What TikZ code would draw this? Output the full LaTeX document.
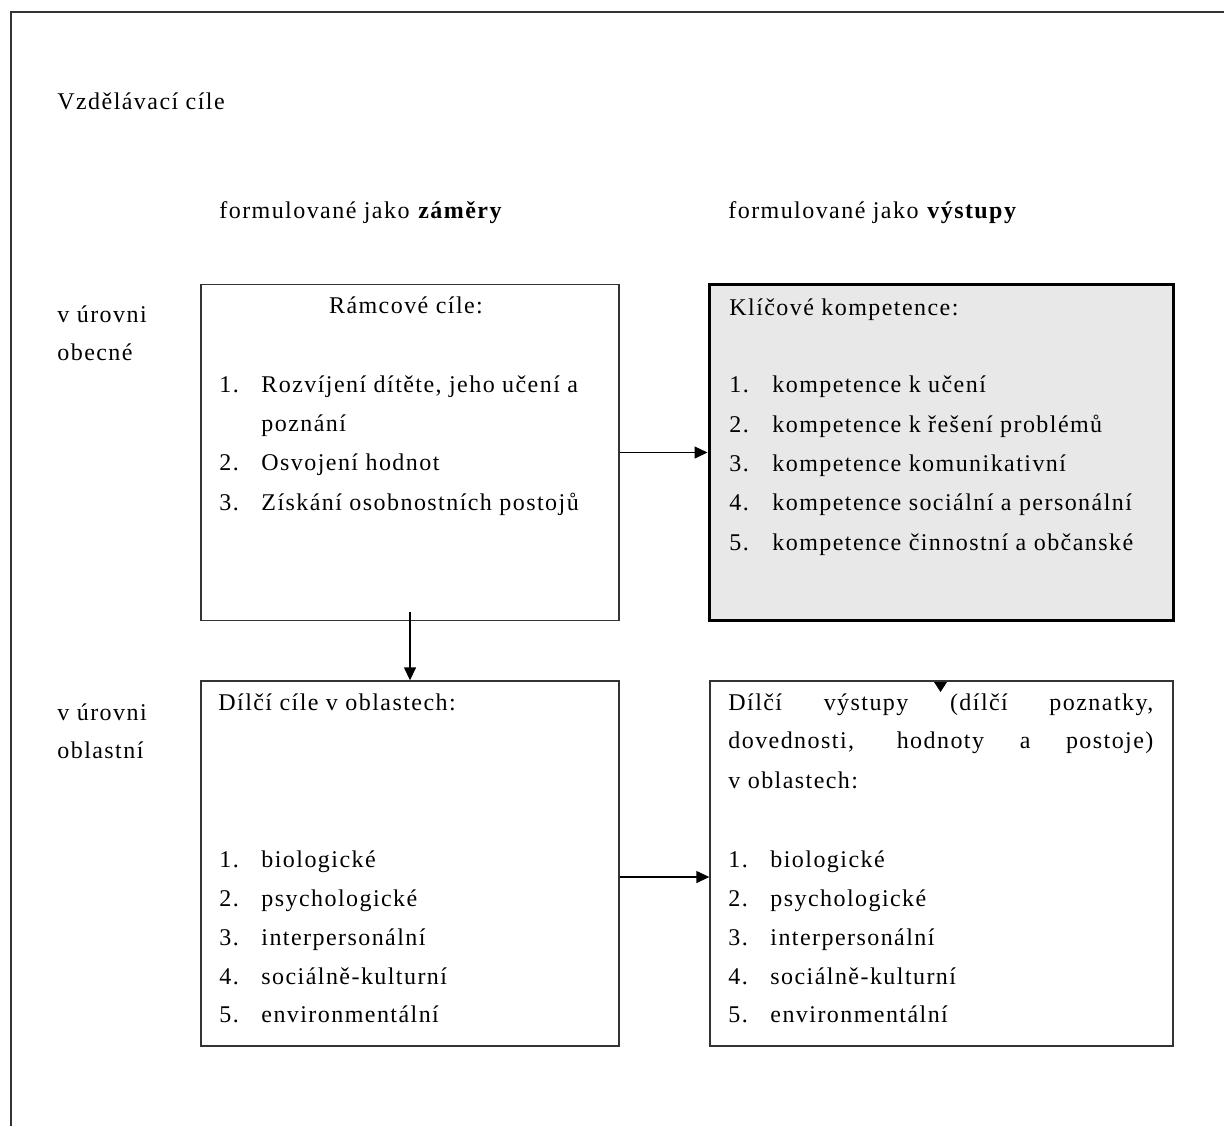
\documentclass[tikz,border=0pt]{standalone}
\usepackage{fontspec}
\setmainfont{Liberation Serif}[LetterSpace=6]
\usepackage{tikz}
\usetikzlibrary{positioning,calc,arrows.meta}
\definecolor{BoxGray}{HTML}{E8E8E8}
\definecolor{LineGray}{HTML}{333333}

\begin{document}
\begin{tikzpicture}[x=0.5pt,y=-0.5pt,
    every node/.style={font=\fontsize{12pt}{14pt}\selectfont, inner sep=0pt},
    txt/.style={anchor=base west},
    lstitem/.style={anchor=base west},
    box/.style={draw=LineGray, line width=0.7pt, minimum width=209pt},
    arrow/.style={-{Triangle[length=6.5pt,width=6pt]}, line width=0.7pt}]
  \useasboundingbox (0,0) rectangle (1224,1126);
  % outer frame (cut off on the right and at the bottom)
  \draw[LineGray, line width=0.9pt] (1224,12) -- (11,12) -- (11,1126);

  % headings
  \node[txt] (title) at (57,109) {Vzdělávací cíle};
  \node[txt] (zamery) at (219,218) {formulované jako \textbf{záměry}};
  \node[txt] (vystupy) at (728,218) {formulované jako \textbf{výstupy}};
  \node[txt] (obecna1) at (57,322) {v úrovni};
  \node[txt] (obecna2) at (57,360) {obecné};
  \node[txt] (oblast1) at (57,720) {v úrovni};
  \node[txt] (oblast2) at (57,758) {oblastní};

  % boxes
  \node[box, minimum height=168pt] (ramcove) at (410,452.5) {};
  \node[box, fill=BoxGray, draw=black, line width=1.5pt, minimum width=232pt,
    minimum height=168pt] (klicove) at (941,452.5) {};
  \node[box, minimum height=182.5pt] (dilcicile) at (410,863.5) {};
  \node[box, minimum width=231.5pt, minimum height=182.5pt] (dilcivystupy) at (941.5,863.5) {};

  % general level, aims
  \node[anchor=base] (ramcovenadpis) at (406,313) {Rámcové cíle:};
  \node[lstitem] (r1) at (219,392) {\makebox[21pt][l]{1.}Rozvíjení dítěte, jeho učení a};
  \node[lstitem] (r1b) at (261,431) {poznání};
  \node[lstitem] (r2) at (219,470) {\makebox[21pt][l]{2.}Osvojení hodnot};
  \node[lstitem] (r3) at (219,510) {\makebox[21pt][l]{3.}Získání osobnostních postojů};

  % general level, outcomes
  \node[txt] (klicovenadpis) at (729,315) {Klíčové kompetence:};
  \node[lstitem] (k1) at (729,392) {\makebox[21.5pt][l]{1.}kompetence k učení};
  \node[lstitem] (k2) at (729,432) {\makebox[21.5pt][l]{2.}kompetence k řešení problémů};
  \node[lstitem] (k3) at (729,471) {\makebox[21.5pt][l]{3.}kompetence komunikativní};
  \node[lstitem] (k4) at (729,510) {\makebox[21.5pt][l]{4.}kompetence sociální a personální};
  \node[lstitem] (k5) at (729,550) {\makebox[21.5pt][l]{5.}kompetence činnostní a občanské};

  % area level, aims
  \node[txt] (dilcinadpis) at (218,710) {Dílčí cíle v oblastech:};
  \node[lstitem] (c1) at (219,867) {\makebox[21pt][l]{1.}biologické};
  \node[lstitem] (c2) at (219,906) {\makebox[21pt][l]{2.}psychologické};
  \node[lstitem] (c3) at (219,945) {\makebox[21pt][l]{3.}interpersonální};
  \node[lstitem] (c4) at (219,984) {\makebox[21pt][l]{4.}sociálně-kulturní};
  \node[lstitem] (c5) at (219,1022) {\makebox[21pt][l]{5.}environmentální};

  % area level, outcomes
  \node[txt] (vystupy1) at (728,710) {\makebox[212.5pt][s]{Dílčí výstupy (dílčí poznatky,}};
  \node[txt] (vystupy2) at (728,748) {\makebox[212.5pt][s]{dovednosti, hodnoty a postoje)}};
  \node[txt] (vystupy3) at (728,788) {v oblastech:};
  \node[lstitem] (v1) at (728,867) {\makebox[21pt][l]{1.}biologické};
  \node[lstitem] (v2) at (728,906) {\makebox[21pt][l]{2.}psychologické};
  \node[lstitem] (v3) at (728,945) {\makebox[21pt][l]{3.}interpersonální};
  \node[lstitem] (v4) at (728,984) {\makebox[21pt][l]{4.}sociálně-kulturní};
  \node[lstitem] (v5) at (728,1022) {\makebox[21pt][l]{5.}environmentální};

  % connectors
  \draw[arrow] (ramcove) -- (klicove);
  \draw[arrow] ([yshift=4.5pt]ramcove.south) -- (dilcicile.north);
  \draw[arrow] (dilcicile.east |- 0,877) -- (dilcivystupy.west |- 0,877);
  % loose arrow tip on the top edge
  \fill (934,682) -- (947,682) -- (940.5,692) -- cycle;
\end{tikzpicture}
\end{document}
